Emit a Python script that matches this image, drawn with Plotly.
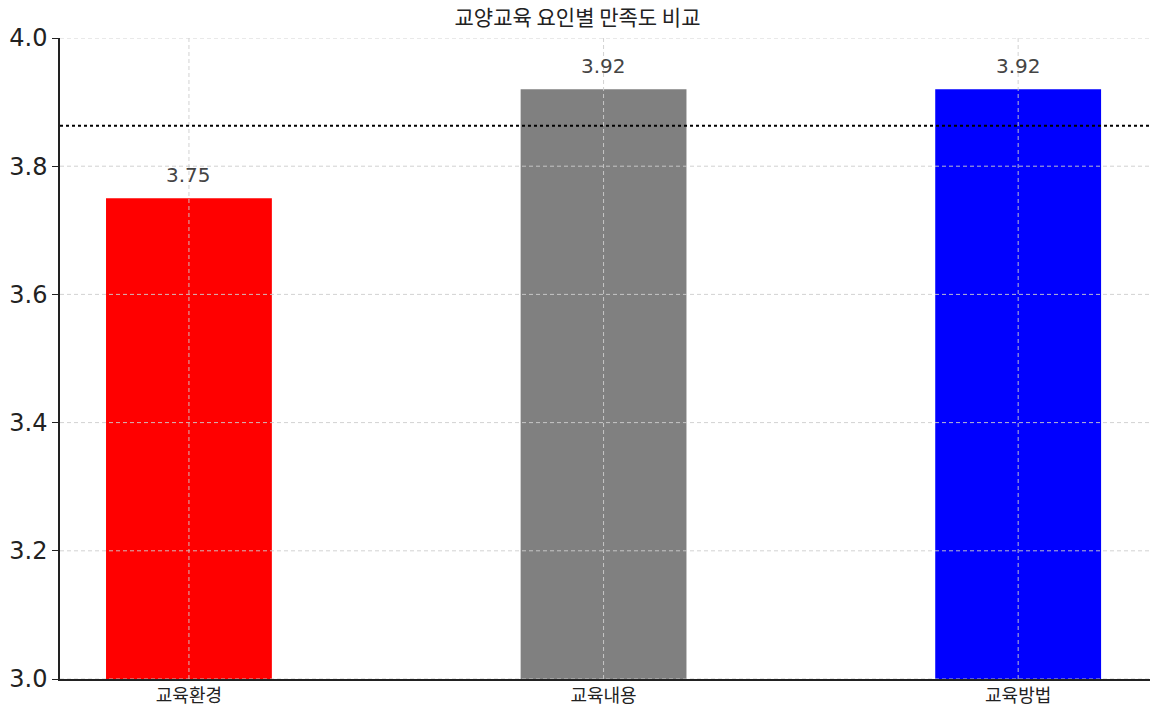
import plotly.graph_objects as go

categories = ["교육환경", "교육내용", "교육방법"]
scores = [3.75, 3.92, 3.92]
colors = ["#ff0000", "#808080", "#0000ff"]
value_labels = ["3.75", "3.92", "3.92"]
average_line = [3.863]
y_ticks = [3.0, 3.2, 3.4, 3.6, 3.8, 4.0]

FONT = "DejaVu Sans, Noto Sans CJK KR, sans-serif"
KFONT = "Noto Sans CJK KR, sans-serif"

fig = go.Figure()
fig.add_trace(go.Bar(
    x=list(range(len(categories))), y=scores, marker=dict(color=colors, line=dict(width=0)),
    width=0.4, showlegend=False, hoverinfo="skip",
))

for i, (v, t) in enumerate(zip(scores, value_labels)):
    fig.add_annotation(x=i, y=v, text=t, showarrow=False, yanchor="bottom", yshift=9,
                       font=dict(size=20, color="#444444", family=FONT))

# gridlines drawn above bars
grid = dict(color="rgba(205,205,205,0.9)", width=1, dash="4px,3px")
for yv in y_ticks:
    fig.add_shape(type="line", xref="paper", x0=0, x1=1, yref="y", y0=yv, y1=yv,
                  line=grid, layer="above")
for i in range(len(categories)):
    fig.add_shape(type="line", xref="x", x0=i, x1=i, yref="paper", y0=0, y1=1,
                  line=grid, layer="above")

fig.add_shape(type="line", xref="paper", x0=0, x1=1, yref="y", y0=average_line[0], y1=average_line[0],
              line=dict(color="black", width=2, dash="dot"), layer="above")

fig.update_layout(
    width=1155, height=710,
    margin=dict(l=60, r=5, t=38, b=31, autoexpand=False),
    plot_bgcolor="white", paper_bgcolor="white",
    title=dict(text="교양교육 요인별 만족도 비교", x=0.5, xanchor="center", y=0.975, yanchor="middle",
               font=dict(size=21, color="#222222", family=KFONT), automargin=False),
    font=dict(family=FONT),
)
fig.update_xaxes(
    range=[-0.311, 2.318], tickmode="array", tickvals=list(range(len(categories))), ticktext=categories,
    showgrid=False, showline=True, linecolor="#222222", linewidth=1.5, ticks="",
    tickfont=dict(size=18, color="#222222", family=KFONT), zeroline=False,
    automargin=False,
)
fig.update_yaxes(
    range=[3.0, 4.0], tickmode="array", tickvals=y_ticks, ticktext=[f"{t:.1f}" for t in y_ticks],
    showgrid=False, showline=True, linecolor="#222222", linewidth=1.5, ticks="outside", ticklen=6,
    tickcolor="#222222", tickfont=dict(size=24, color="#222222", family=FONT), zeroline=False,
    automargin=False,
)

fig.write_html("out.html", config={"displayModeBar": False},
               post_script="document.body.style.margin='0';")
